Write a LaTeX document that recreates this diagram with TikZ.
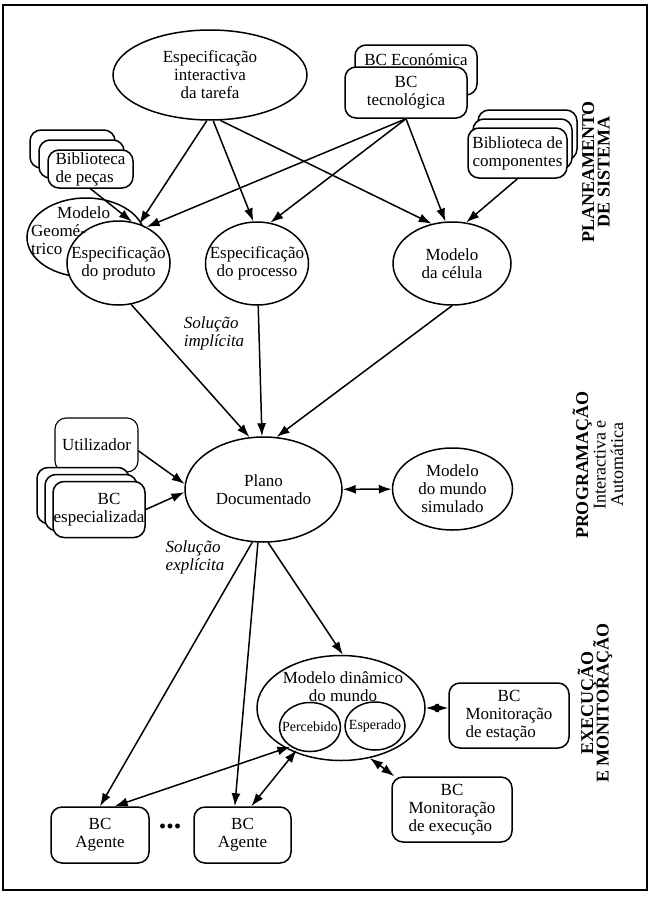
\documentclass[tikz,border=0pt]{standalone}
\usepackage{fontspec}
\setmainfont{Liberation Serif}
\usetikzlibrary{shapes.geometric,arrows.meta,shadows}

\newcommand{\tightlines}{\lineskiplimit-20pt\relax}

\tikzset{
  every node/.style={font=\fontsize{17}{18}\selectfont},
  oval/.style={draw, ellipse, fill=white, line width=1.5pt, inner sep=0pt},
  ot/.style={label={[txt]center:#1}},
  box/.style={draw, rounded corners=11pt, fill=white, line width=1.5pt, inner sep=0pt, align=center},
  txt/.style={align=center, inner sep=0pt},
  note/.style={align=left, inner sep=0pt, font=\fontsize{17}{18}\selectfont\itshape},
  side/.style={rotate=90, align=center, inner sep=0pt},
  arr/.style={-{Latex[length=13pt,width=9pt]}, line width=1.5pt},
  darr/.style={{Latex[length=13pt,width=9pt]}-{Latex[length=13pt,width=9pt]}, line width=1.5pt},
}

\begin{document}
\begin{tikzpicture}[x=1pt, y=-1pt]
  \useasboundingbox (0,0) rectangle (657,897);
  \draw[line width=2pt] (3,5) rectangle (647,890);

  % planeamento
  \node[oval, minimum width=194pt, minimum height=90pt,
    ot={Especificação\\interactiva\\da tarefa}] (tarefa) at (210,75) {};
  \node[box, minimum width=122pt, text height=12pt, text depth=22pt, inner ysep=8pt]
    (econ) at (416,70) {BC Económica};
  \node[box, minimum width=122pt, minimum height=51pt] (tecn) at (406,92.5) {BC\\tecnológica};
  \node[box, align=left, minimum width=85pt, minimum height=38pt,
    copy shadow={shadow xshift=-18pt, shadow yshift=20pt, draw=black, fill=white, line width=1.5pt},
    copy shadow={shadow xshift=-9pt, shadow yshift=10pt, draw=black, fill=white, line width=1.5pt}]
    (pecas) at (90.5,169) {Biblioteca\\de peças};
  \node[box, minimum width=99pt, minimum height=50pt,
    copy shadow={shadow xshift=10pt, shadow yshift=18pt, draw=black, fill=white, line width=1.5pt},
    copy shadow={shadow xshift=5pt, shadow yshift=9pt, draw=black, fill=white, line width=1.5pt}]
    (comp) at (517.5,153) {Biblioteca de\\componentes};
  \node[oval, minimum width=118pt, minimum height=79pt] (geo) at (86,237.5) {};
  \node[oval, minimum width=103pt, minimum height=84pt,
    ot={Especificação\\do produto}] (prod) at (118.5,263) {};
  \node[txt, align=left, anchor=west] (geotxt) at (31,231)
    {\hspace*{26pt}Modelo\\Geomé-\\trico};
  \node[oval, minimum width=103pt, minimum height=83pt,
    ot={Especificação\\do processo}] (proc) at (257,263.5) {};
  \node[oval, minimum width=118pt, minimum height=83pt,
    ot={Modelo\\da célula}] (cel) at (452,263.5) {};
  \node[side, font=\fontsize{18}{15.5}\selectfont\bfseries\tightlines]
    (plan) at (596,172) {PLANEAMENTO\\DE SISTEMA};

  % programacao
  \node[note] (impl) at (214,333) {Solução\\implícita};
  \node[oval, minimum width=157pt, minimum height=105pt,
    ot={Plano\\Documentado}] (plano) at (263.5,489.5) {};
  \node[oval, minimum width=120pt, minimum height=82pt,
    ot={Modelo\\do mundo\\simulado}] (mundo) at (452.5,489) {};
  \node[box, line width=1.1pt, minimum width=83pt, minimum height=54pt]
    (util) at (96.5,445) {Utilizador};
  \node[box, align=left, minimum width=92pt, minimum height=56pt,
    copy shadow={shadow xshift=-16pt, shadow yshift=14pt, draw=black, fill=white, line width=1.5pt},
    copy shadow={shadow xshift=-8pt, shadow yshift=7pt, draw=black, fill=white, line width=1.5pt}]
    (esp) at (99,509.5) {\hspace*{44pt}BC\\especializada};
  \node[note] (expl) at (195,557) {Solução\\explícita};
  \node[side, font=\fontsize{18}{17.5}\selectfont\tightlines] (prog) at (598,465)
    {\textbf{PROGRAMAÇÃO}\\Interactiva e\\Automática};

  % execucao
  \node[oval, minimum width=168pt, minimum height=105pt] (din) at (341,708) {};
  \node[txt] (dintxt) at (343,687) {Modelo dinâmico\\do mundo};
  \node[oval, minimum width=61pt, minimum height=49pt,
    label={[txt, font=\fontsize{14}{15}\selectfont]center:Percebido}] (perc) at (310,727) {};
  \node[oval, minimum width=60pt, minimum height=48pt,
    label={[txt, font=\fontsize{14}{15}\selectfont]center:Esperado}] (esper) at (375,726) {};
  \node[box, minimum width=120pt, minimum height=65pt] (est) at (509,715.5)
    {\begin{tabular}{@{}l@{}}\multicolumn{1}{@{}c@{}}{BC}\\Monitoração\\de estação\end{tabular}};
  \node[box, minimum width=120pt, minimum height=65pt] (exe) at (452,809.5)
    {\begin{tabular}{@{}l@{}}\multicolumn{1}{@{}c@{}}{BC}\\Monitoração\\de execução\end{tabular}};
  \node[box, minimum width=98pt, minimum height=56pt] (ag1) at (100,835) {BC\\Agente};
  \node[box, minimum width=97pt, minimum height=56pt] (ag2) at (242.5,835) {BC\\Agente};
  \node[font=\fontsize{30}{30}\selectfont\bfseries] (dots) at (170,826) {...};
  \node[side, font=\fontsize{18}{15.5}\selectfont\bfseries\tightlines]
    (exec) at (595,703) {EXECUÇÃO\\E MONITORAÇÃO};

  % ligacoes
  \draw[arr] (tarefa.266) -- (prod.62);
  \draw[arr] (tarefa.274) -- (proc.95);
  \draw[arr] (tarefa.283) -- (cel.117);
  \draw[arr] (tecn.south) -- (prod.52);
  \draw[arr] (tecn.south) -- (proc.72);
  \draw[arr] (tecn.south) -- (cel.99);
  \draw[arr] (comp.south) -- (cel.71);
  \draw[arr] (pecas.south) -- (prod.72);
  \draw[arr] (prod.287) -- (plano.105);
  \draw[arr] (proc) -- (plano);
  \draw[arr] (cel.270) -- (plano.76);
  \draw[arr] (util.-8) -- (plano.176);
  \draw[arr] (esp.east) -- (plano.182);
  \draw[darr] (plano) -- (mundo);
  \draw[arr] (plano.258) -- (ag1.north);
  \draw[arr] (plano.264) -- (ag2.105);
  \draw[arr] (plano.275) -- (din.88);
  \draw[darr] (ag1.63) -- (perc.225);
  \draw[darr] (ag2.73) -- (perc.240);
  \draw[darr] (din.east) -- (din.east -| est.west);
  \draw[darr] (din.300) -- (exe.150);
\end{tikzpicture}
\end{document}
